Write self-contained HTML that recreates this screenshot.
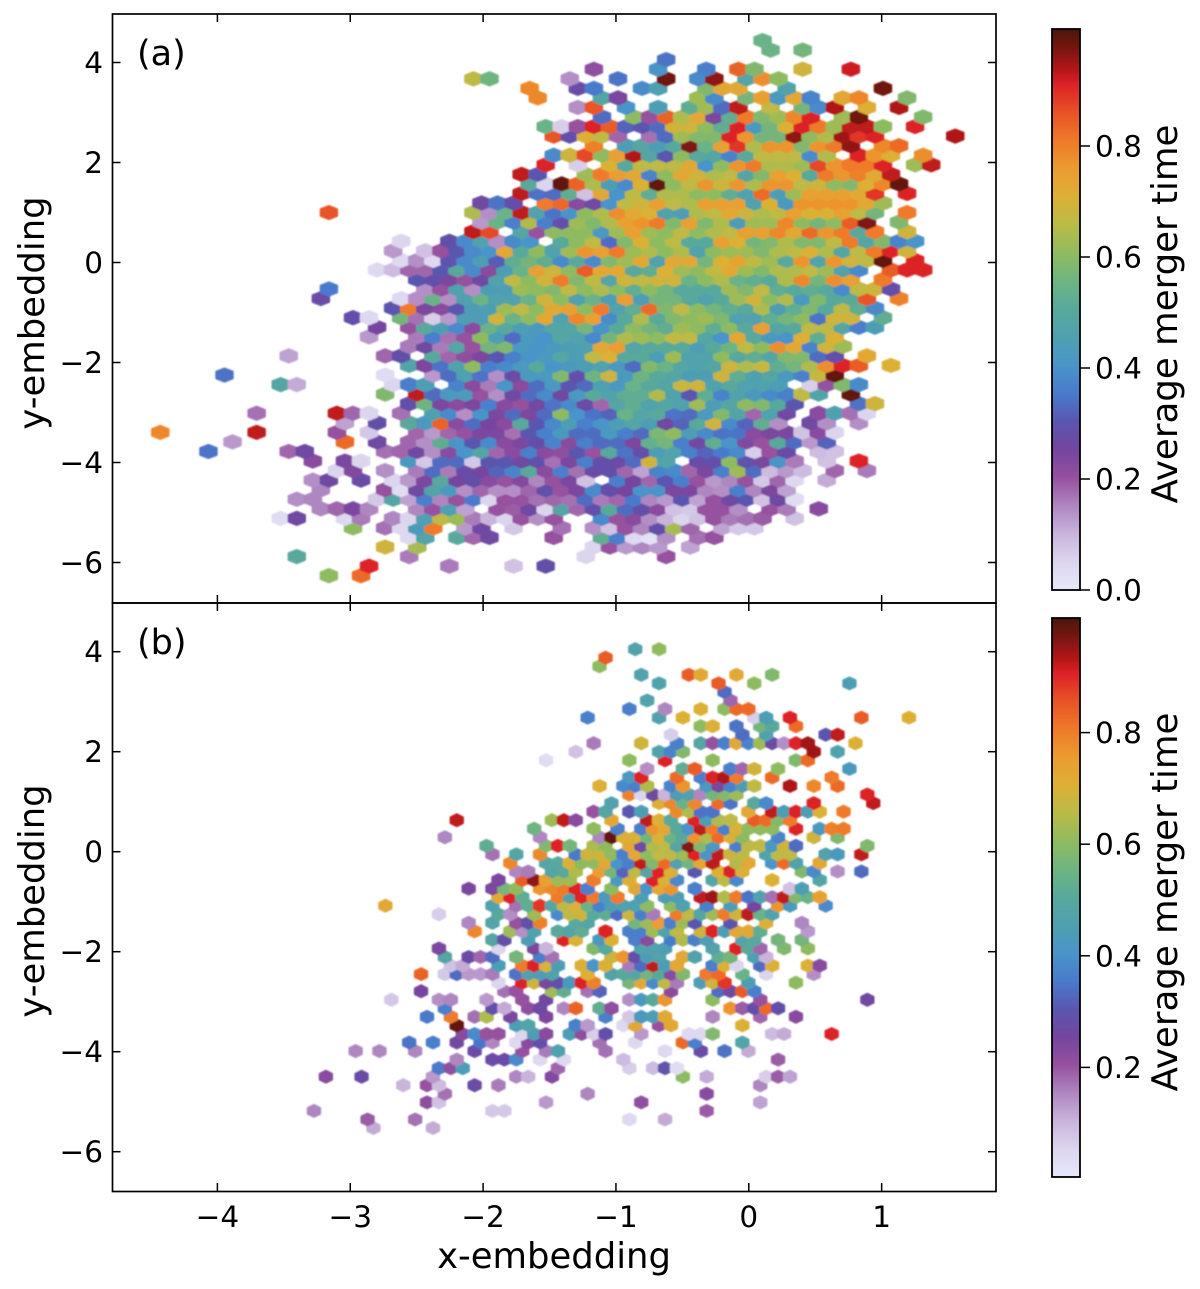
<!DOCTYPE html>
<html>
<head>
<meta charset="utf-8">
<title>Average merger time hexbin embeddings</title>
<style>
html,body{margin:0;padding:0;background:#fff;}
svg{display:block;}
text{font-family:"DejaVu Sans","Liberation Sans",sans-serif;fill:#000;}
</style>
</head>
<body>
<svg id="chart" xmlns="http://www.w3.org/2000/svg" width="1200" height="1289" viewBox="0 0 1200 1289">
  <defs>
    <filter id="soft" x="0" y="0" width="1200" height="1289" filterUnits="userSpaceOnUse"><feGaussianBlur stdDeviation="0.7"/></filter>
    <filter id="soft-text" x="0" y="0" width="1200" height="1289" filterUnits="userSpaceOnUse"><feGaussianBlur stdDeviation="0.35"/></filter>
    <linearGradient id="cmap-gradient" x1="0" y1="1" x2="0" y2="0"></linearGradient>
  </defs>
  <rect x="0" y="0" width="1200" height="1289" fill="#fff"/>
  <g id="hex-a" filter="url(#soft)"></g>
  <g id="hex-b" filter="url(#soft)"></g>
  <g filter="url(#soft-text)">
  <rect x="112.5" y="14" width="883.5" height="589" fill="none" stroke="#000" stroke-width="1.7"/>
  <rect x="112.5" y="603" width="883.5" height="588.5" fill="none" stroke="#000" stroke-width="1.7"/>
  <g id="ticks"></g>
  <text x="137" y="65" font-size="35">(a)</text>
  <text x="137" y="654" font-size="35">(b)</text>
  <text x="554" y="1268" font-size="35.4" text-anchor="middle">x-embedding</text>
  <text transform="translate(44,313) rotate(-90)" font-size="35.4" text-anchor="middle">y-embedding</text>
  <text transform="translate(44,901) rotate(-90)" font-size="35.4" text-anchor="middle">y-embedding</text>
  <rect x="1052" y="29" width="28" height="561" fill="url(#cmap-gradient)" stroke="#000" stroke-width="1.8"/>
  <rect x="1052" y="618" width="28" height="559" fill="url(#cmap-gradient)" stroke="#000" stroke-width="1.8"/>
  <text transform="translate(1177,314) rotate(-90)" font-size="35.6" text-anchor="middle">Average merger time</text>
  <text transform="translate(1177,902) rotate(-90)" font-size="35.6" text-anchor="middle">Average merger time</text>
  </g>
</svg>
<script>
// Tick labels
const xTicks = [-4,-3,-2,-1,0,1];
const yTicks = [4,2,0,-2,-4,-6];
const cbarTicksA = [0.0,0.2,0.4,0.6,0.8];
const cbarTicksB = [0.2,0.4,0.6,0.8];

// Panel (a): each row lists runs of [firstBin, value, value...]; values are merger time x 100
const rowsA = [
[[10,60],[12,82]],
[[13,90],[18,16],[22,8],[24,28]],
[[8,50],[15,16],[26,5],[31,20]],
[[14,68],[16,63],[27,5,20,13,15,13],[33,12]],
[[15,4,47],[18,50,18,26],[24,20],[27,52,36,4,2,14],[33,17,20]],
[[12,60],[14,17,4,43,80],[19,13,26],[22,7],[25,17],[27,14,8,20,15,28,63,18],[35,12,7,7]],
[[7,3,26],[11,4,16],[14,15,5,45,66,62,16,10,5,20,14,20],[27,38,20,22,14,10,5,8,20,16,17,19],[39,8]],
[[10,15,18,24,15],[16,15,20,45,12],[21,20,19,26,5,48,18,28,50,33,28,22,8,7,20,20,14],[38,20,16],[41,22]],
[[8,14,15],[13,7,48,12,36,15,20,35,5,20,20,17,18,17,33,16,18,35,15,13,30,12,20,26,30,8,26,3]],
[[10,15],[14,20,3,26,47,42,14,18,14,14,18,28,20,24,38,28,25,40,40,24,24,15,14,36,15,24,12]],
[[9,14,26],[12,27],[14,5,13,24,50,25,28,22,20,23,15,20,24,8],[28,36,25,18,30,36,20,13,15,20,7,18,4],[41,11]],
[[11,5,23],[14,14],[16,16,33,16,27,25,32,37,50,22,36,17,27,28,18,12,37,38,18,24,36,62,33,9,13,9],[42,18],[44,16]],
[[9,22],[11,24,5],[15,42,7,33,33,7,30,30,26,28,17,24,36,28,27,33,68,47],[33,27,28,60,29,24,40,16],[41,8],[43,90]],
[[3,34],[8,18,26],[14,17,18,26,14,22,40,48,18,22,36,22,21,30,20,50,34,28,44,46,36,32,35,38,6,20,27],[41,9,8]],
[[4,13],[11,82],[13,26],[15,18,14,52,40,30,38,22,24,28,37,22,36,33,33,24,53,56,36,26,52,40,23,20,50,33,13,32]],
[[0,78],[6,92],[11,20],[13,7],[16,18,13,18,20,24,24,17,30,36,42,33,33,42,36,33,57,60,44,38,34,34,22,24,24,8,22,5]],
[[11,12],[13,28],[15,50,42,83,22,33,25,22,50,30,38,44,36,40,44,48,44,26,32,50,68,38,32,52,14],[40,26,14],[43,14]],
[[6,17],[11,92,18,5],[15,17],[17,45,38,14,40,24,33,24,33,60,40,34,32,54,48,50,34,33,42,58,47,18,46,26],[41,22,45,17,5]],
[[15,28,55,24,22,24,36,22,20,26,34,38,27,18,48,52,46,48,46,62,44,48,60,58,50,30],[43,34,68]],
[[14,58],[16,92,33,42,43,20,14,26,33,38,26,42,50,46,52,52,64,46,30,52,37,46,42,38,36,66,47],[43,98]],
[[7,48,11],[14,5,36,44],[18,37,22,16,40,22,33,42,30,33,45,42,54,50,48,67,68,46,50,46,46,44],[40,6,20,58,38]],
[[4,34],[14,3],[17,13,33,45,34,14,27,42,42,58,28,55,68,42,55,50,48,44,44,68,52,45,48,42,36,67,98]],
[[15,47,24,34,46,60,36,38,42,50,40,42,44,46,42,33,58,54,48,46,48,68,64,67,52,56,64,77,90,84],[45,70]],
[[8,12],[14,18,28],[17,50,18,21,24,30,36,40,42,48,44,66,70,50,50,44,62,46,46,60,50,52,48,58,58,33,28],[44,72]],
[[15,16,26,16,48,20,56,58,42,40,42,44,45,72,75,48,50,50,50,44,50,55,66,60,77,72,37,68,62]],
[[13,13],[16,16,36,17,20,60,44,33,42,40,48,46,38,56,64,62,60,66,66,48,40,72,50,42,40,70,52,70]],
[[13,25],[15,20,50,44,38,22,54,50,44,42,48,48,56,40,50,60,56,52,62,60,52,60,50,74,48,50,66,66,48,36,44]],
[[12,28,4],[15,56,17,6,13,44,44,68,54,60,72,46,78,74,38,50,64,50,58,60,62,58,46,46,52,56,60,34,68,68],[45,52]],
[[14,30,80,24,22,30,44,44,62,66,60,72,74,60,80,46,52,82,58,66,60,56,52,50,64,44,52,58,50,66,52,38]],
[[10,27],[15,4,14,54,14,45,54,46,46,54,68,60,46,54,44,75,44,56,56,50,46,50,62,68,60,64,42,58,50,50,85],[46,79]],
[[10,35],[16,14,20,46,14,44,44,62,60,58,66,60,64,60,52,60,56,50,50,50,62,58,66,52,50,52,50,38,66,68,28]],
[[16,30,28,24,20,26,46,66,60,68,80,58,66,48,68,66,68,68,54,60,64,54,52,50,64,78,56,77,74],[45,80]],
[[13,4,9,18,18,30,50,38,22,44,54,74,68,60,84,72,72,50,52,70,62,60,66,72,62,58,64,64,66,62,46,38],[45,84,90,90]],
[[15,4,14,4,29,38,44,31,52,56,52,38,50,38,58,62,72,46,72,72,56,70,73,66,62,50,76,47,76,68,66,98],[47,90]],
[[14,13],[16,8,20,30,38,40,72,50,60,46,62,76,74,80,62,64,60,64,46,60,62,62,58,64,66,70,64,48,66,80,90,68]],
[[15,5],[18,28,38,46,14,38,40],[25,50,60,66,33,58,70,60,66,50,50,74,70,56,58,64,58,58,66,80,48,58,37,40]],
[[19,92,86],[22,48,20,60,60,60,42,62,74,62,60,66,60,64,66,74,74,78,72,82,76,80,50,80],[46,68]],
[[20,13,54,36,64,36,28,62,58,64,74,76,80,58,74,58,64,44,62,62,78,60,56,60,84,96],[46,58]],
[[10,85],[19,64,14,54,92,46,34,40,60,64,77,72,70,46,44,64,66,72,68,64,66,74,70,70,74,66,56],[46,80]],
[[20,26,34,28],[24,80,82,22,26,40,66,68,74,66,64,74,74,74,46,70,42,76,76,76,76,72,62]],
[[22,92,34,33,52,8,72,40,66,52,64,64,60,60,52,46,82,44,62,74,74,74,72,88],[46,90]],
[[23,50,5,98,83,64,44,38,70,98,60,66,76,68,76,64,76,76,66,68,60,58,70,78,98]],
[[22,92,30],[26,62,80,75,72,37,60,72,68,64,66,48,58,74,70,50,80,76,79,72,92]],
[[24,90],[26,6],[28,70,50,66,66,66,72,40,60,76,80,64,64,62,86,76,80,80,90],[47,62,92]],
[[24,38,68,86,60,74,93,48,30,60,50,48,37,50,66,66,66,38,64],[43,90,76,70],[47,77]],
[[27,79],[29,44,48,44,50,96,54,74,88,64,76,76,58,76,80,95],[45,78,82]],
[[24,85,28,70,66,18],[30,17,33,62,58,58,90,76,56,56,95,60,64,94,88,90],[49,93]],
[[24,54,6,20,90,84,32,30,33,68,68,60,52,90,42,56,70,90,80,62,92,92,60],[47,90]],
[[27,33],[29,60,20,83,64,72,24,52,80,58,62,78,90],[42,62,97],[47,58]],
[[26,14,85],[29,40],[31,44],[33,52,62,33,92],[38,66],[40,56,38,93],[44,70],[46,93]],
[[23,78],[27,48,24],[33,62,38],[36,56,74,42,72,37],[42,72,78],[46,58]],
[[23,78],[26,27,35],[30,38,45],[34,58,72,72],[39,46],[45,97]],
[[19,66,55],[25,14],[28,34],[31,97],[33,38,95],[36,48,77,60]],
[[27,21],[31,40],[34,36],[36,83,58],[40,68],[43,91]],
[[31,34]],
[[38,54],[40,56]],
[[37,54]]
];

// Panel (b): same layout, finer bins
const rowsB = [
[[5,11],[10,11]],
[[4,19],[8,17],[26,4],[29,11]],
[[0,15],[15,7,7],[33,19]],
[[9,21,8],[19,13],[27,21],[37,12]],
[[11,17],[23,15],[33,22]],
[[7,10],[9,20,9],[13,27],[15,16],[37,15]],
[[1,22],[4,27],[10,13],[17,15,10],[20,23],[31,60],[33,11],[38,6,19,12]],
[[10,35,21,44],[20,18],[26,6],[28,9,29,3]],
[[12,15],[15,27,27,38],[19,4],[21,4],[26,9],[39,19]],
[[3,15],[5,15],[8,15],[13,27],[17,20],[19,16,45],[24,17],[29,4],[32,27],[34,34],[36,11]],
[[8,34],[10,36],[12,26],[14,34,15],[17,4,22,28],[24,17],[27,4],[31,82,36],[36,47]],
[[12,22,38,20,20],[17,5,44,22],[21,44,21,6,28],[27,13],[31,4,4,58],[38,9,11],[43,90]],
[[12,98],[17,44,47],[22,36,13],[26,4,72],[29,20,72],[36,70]],
[[9,35],[11,80],[13,17,64],[16,24],[19,24],[24,36],[26,7,42,44,72],[33,15],[37,18],[40,22]],
[[11,36],[15,28,11],[18,21,26],[21,15,83],[24,52,21],[35,76,19,28,82,28]],
[[6,7],[10,14,15],[14,13],[17,20],[19,26],[26,14,42,50,76],[33,60],[37,20],[46,26]],
[[9,25],[16,17,20],[20,62,52],[23,17,32],[30,22],[34,33,26,84,36]],
[[15,5],[17,90,68,24,28,42,90,79],[26,56,72,38,66,16],[32,44,68,88],[36,44],[40,60]],
[[9,83],[11,7,33,13,13,16],[17,34,46,44,46],[23,70],[25,46,50,48,56,50,22,58],[33,80,82],[36,54],[38,5],[42,14]],
[[11,8,11],[15,44],[17,80,90,70,44],[22,70,40,70],[26,16,33,92,44,72],[33,36,70,5],[37,33,70],[41,70,22]],
[[11,48],[13,27,18,33],[17,56],[19,36,17],[25,68,76,28,44,46],[31,72,46],[34,52,56],[37,45,10]],
[[10,24],[15,5],[18,24,10],[23,58,50],[27,46,46,44],[33,46],[35,90,50,18],[39,58],[41,60]],
[[15,48,28],[18,44],[21,90,70],[24,42,70],[27,36,22],[30,35,64,36,44],[36,47,50],[39,56],[41,56]],
[[13,78],[16,62,14,46],[20,50,47,52],[24,90],[26,36,36,62,46,66],[32,68,90,44,72,72,52],[41,13]],
[[13,15],[15,47],[17,20,28,79],[22,50,48],[27,56,62,75,36,62,30],[35,30],[38,70],[41,15]],
[[10,6],[15,50,14],[18,62],[20,38,66,68,50,52,33,68,36,16],[30,80,66,48,62,80,68,92,54,46]],
[[6,72],[15,46],[17,17,52,88,48,66,70,54,36,44,46,45,60],[30,60,46],[33,36],[35,44],[37,25],[39,76,42],[43,38]],
[[15,72,90,52],[20,80,46,90,80,42,80],[27,44],[29,44,44],[32,92,94,64,80,34,46,17,92,58,54,74]],
[[13,24],[15,24,56,60],[19,76,78,80,90,36],[25,60],[27,72,40,72,76],[32,36],[40,8,44]],
[[15,24],[17,84,95,74,62,62],[23,80],[25,42,70],[28,90,70,38],[33,48,66,38],[38,70],[42,48]],
[[17,15,16],[20,48,50,64],[24,75,56,32,66,48,90,70],[32,30],[34,70,90,70],[41,58,38],[44,14],[46,33]],
[[16,78],[19,48,50,70,60,60,72,40,36,92,58,82,46,56,72,92],[35,64,72],[38,40,82,46],[42,72]],
[[15,17],[17,48],[19,78],[22,35,68,68,60,36,72,60,66,66,62,90,40,92,68,66],[38,46,66,66],[43,46,42],[46,92]],
[[14,52],[19,58,90,56],[23,64,60],[26,72,26,64,66,48,96,58,42],[35,36,66,66,42,68,33],[46,58]],
[[11,15],[19,15],[24,15,98,70,70,56,70,54,50,76,64,82,70,60],[39,37],[42,68],[44,58]],
[[18,55],[23,60],[25,36],[27,36,76,72,50,40,92,80,36,70,60,60,60],[40,90],[42,42,79,80]],
[[12,92],[20,62,92,22],[25,72],[28,92,70,50],[32,90,44,64,66],[37,84,82,58,80]],
[[23,20,48],[26,30,44],[30,78,64,34,34],[36,72],[38,92,44,90,44,70],[44,80]],
[[25,46],[29,70,78,54,78],[34,82,34],[37,50,38],[42,90],[47,92]],
[[26,79,5,26,10,44,46,15,56,58,62],[46,90]],
[[24,70],[26,38,36,64],[30,37,76],[33,42,24,36,44,66],[40,93],[42,78],[44,82]],
[[26,42,90],[30,82],[32,36,90,93,80],[38,82],[43,80]],
[[28,14],[31,52,84],[35,36,18,68],[39,60],[45,42]],
[[19,3],[26,60],[29,90],[33,60],[40,58,82]],
[[22,8],[29,46,37,58],[42,94],[44,46]],
[[23,16],[27,68],[30,36],[32,48,20,36,72,37,62,27,14,90,94],[45,70]],
[[30,6],[36,33],[38,46],[43,30,92]],
[[32,60,70],[35,34],[37,56,50],[40,82]],
[[23,36],[29,46],[31,70],[37,6,44],[40,90],[46,84],[50,70]],
[[26,36],[29,15],[32,70],[34,60,82,82]],
[[28,46],[35,18]],
[[34,33]],
[[29,46],[34,84],[37,60],[45,44]],
[[27,46],[31,84,72],[35,72],[38,58]],
[[24,60]],
[[24,84]],
[[27,46],[29,60]]
];

const NS = 'http://www.w3.org/2000/svg';
const cmapPos = [0,0.05,0.1,0.15,0.2,0.25,0.3,0.35,0.4,0.45,0.5,0.55,0.6,0.65,0.7,0.75,0.8,0.85,0.9,0.93,0.97,1];
const cmapCol = ['#e6e9f9','#dcd5ee','#c9b4dc','#ae86c0','#96519f','#74459f','#5a56b0','#4a7acc','#4a94c8','#4fa0b0','#58a99c','#6eb482','#8fbb60','#b8bb48','#dcb036','#eb9c30','#ee7a2a','#e85426','#dd2226','#b01618','#701410','#4a120e'];

function hexToRgb(h){return [parseInt(h.substr(1,2),16),parseInt(h.substr(3,2),16),parseInt(h.substr(5,2),16)];}
function colorFor(v){
  var t=Math.max(0,Math.min(1,v));
  for(var i=0;i<cmapPos.length-1;i++){
    if(t<=cmapPos[i+1]){
      var f=(t-cmapPos[i])/(cmapPos[i+1]-cmapPos[i]);
      var a=hexToRgb(cmapCol[i]),b=hexToRgb(cmapCol[i+1]);
      return 'rgb('+Math.round(a[0]+(b[0]-a[0])*f)+','+Math.round(a[1]+(b[1]-a[1])*f)+','+Math.round(a[2]+(b[2]-a[2])*f)+')';
    }
  }
  return cmapCol[cmapCol.length-1];
}

// Axis functions
function sx(x){return 748.8+132.85*x;}
function syA(y){return 262.5-50*y;}
function syB(y){return 851.7-50*y;}
function cbA(v){return 590-555*v;}
function cbB(v){return 1179-558*v;}

function drawPanel(rows,groupId,panel,sy,binW,rowH,x0,y0){
  var g=document.getElementById(groupId);
  var hw=binW*132.85/2;
  var r=rowH*50/1.5;
  rows.forEach(function(row,j){
    var yData=y0+j*rowH;
    row.forEach(function(run){
      for(var n=1;n<run.length;n++){
        var bin=run[0]+n-1;
        var xData=x0+(bin+(j%2===0?0:-0.5))*binW;
        if(panel==='b'&&j%2!==0){xData=x0+(bin+0.5)*binW;}
        var cx=sx(xData),cy=sy(yData);
        var c=colorFor(run[n]/100);
        var p=document.createElementNS(NS,'polygon');
        p.setAttribute('points',[[0,-r],[hw,-r/2],[hw,r/2],[0,r],[-hw,r/2],[-hw,-r/2]].map(function(q){return (cx+q[0]).toFixed(1)+','+(cy+q[1]).toFixed(1);}).join(' '));
        p.setAttribute('fill',c);
        p.setAttribute('stroke',c);
        p.setAttribute('stroke-width','2.4');
        p.setAttribute('stroke-linejoin','round');
        
        
        g.appendChild(p);
      }
    });
  });
}
drawPanel(rowsA,'hex-a','a',syA,0.12089,0.19112,-4.3696,-6.264);
drawPanel(rowsB,'hex-b','b',syB,0.08957,0.171,-3.2729,-5.526);

// Colorbar gradient
var grad=document.getElementById('cmap-gradient');
cmapPos.forEach(function(pos,i){
  var s=document.createElementNS(NS,'stop');
  s.setAttribute('offset',pos);
  s.setAttribute('stop-color',cmapCol[i]);
  grad.appendChild(s);
});

var tg=document.getElementById('ticks');
function tickLine(x1,y1,x2,y2,w){
  var l=document.createElementNS(NS,'line');
  l.setAttribute('x1',x1);l.setAttribute('y1',y1);l.setAttribute('x2',x2);l.setAttribute('y2',y2);
  l.setAttribute('stroke','#000');l.setAttribute('stroke-width',w||1.5);
  
  
  tg.appendChild(l);
}
function tickText(x,y,str,anchor){
  var t=document.createElementNS(NS,'text');
  t.setAttribute('x',x);t.setAttribute('y',y);t.setAttribute('font-size','29.5');t.setAttribute('text-anchor',anchor);
  t.textContent=str;
  
  
  tg.appendChild(t);
}
function fmt(n){return (n<0?'\u2212':'')+Math.abs(n);}

xTicks.forEach(function(v){
  var x=sx(v);
  tickLine(x,14,x,22);
  tickLine(x,595,x,611);
  tickLine(x,1183,x,1191.5);
  tickText(x,1227,fmt(v),'middle');
});
yTicks.forEach(function(v){
  [syA,syB].forEach(function(sy){
    var y=sy(v);
    tickLine(112.5,y,120.5,y);
    tickLine(988,y,996,y);
    tickText(103,y+10.5,fmt(v),'end');
  });
});
cbarTicksA.forEach(function(v){
  var y=cbA(v);
  tickLine(1080,y,1090,y);
  tickText(1095,y+10.5,v.toFixed(1),'start');
});
cbarTicksB.forEach(function(v){
  var y=cbB(v);
  tickLine(1080,y,1090,y);
  tickText(1095,y+10.5,v.toFixed(1),'start');
});
</script>
</body>
</html>
